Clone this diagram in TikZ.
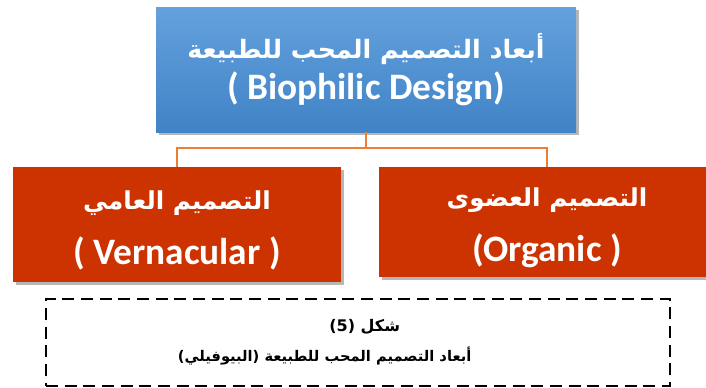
\documentclass[tikz,border=0pt]{standalone}
\usepackage{fontspec}
\setmainfont{Carlito}
\newfontfamily\arabicfont[Script=Arabic]{DejaVu Sans}
\TeXXeTstate=1
\usetikzlibrary{shadows}
\definecolor{topblue}{RGB}{100,161,221}
\definecolor{lowblue}{RGB}{64,131,198}
\definecolor{boxred}{RGB}{204,51,0}
\definecolor{linkorange}{RGB}{237,125,49}

\begin{document}
\begin{tikzpicture}[x=0.75pt,y=0.75pt,
  boxshadow/.style={drop shadow={shadow xshift=2pt,shadow yshift=-2pt,opacity=0.4,fill=black!70}},
  mainbox/.style={boxshadow,rectangle,top color=topblue,bottom color=lowblue,text=white,
    align=center,inner sep=0pt,minimum width=315pt,minimum height=93.75pt,
    font=\bfseries\fontsize{28}{31}\selectfont},
  kindbox/.style={boxshadow,rectangle,fill=boxred,text=white,align=center,inner sep=0pt,
    font=\bfseries\fontsize{28}{41}\selectfont},
  capbox/.style={rectangle,draw=black,line width=1pt,dash pattern=on 9pt off 5pt,
    align=center,inner sep=0pt,minimum width=468pt,minimum height=65.25pt,
    font=\bfseries\fontsize{12}{22.5}\selectfont},
  link/.style={draw=linkorange,line width=1.5pt}]
  \useasboundingbox (0,0) rectangle (706,387);
  \node[mainbox] (dims) at (366,317.5)
       {{\arabicfont\fontsize{19}{31}\selectfont\beginR أبعاد التصميم المحب للطبيعة\endR}\\
        ( Biophilic Design)};
  \node[kindbox,minimum width=246pt,minimum height=86.25pt] (vern) at (177,162.5)
       {\rule{0pt}{23pt}{\arabicfont\fontsize{18.5}{41}\selectfont\beginR التصميم العامي\endR}\\
        ( Vernacular )};
  \node[kindbox,minimum width=252pt,minimum height=82.5pt] (orgn) at (547,165)
       {\rule{0pt}{23pt}{\arabicfont\fontsize{18.5}{41}\selectfont\beginR التصميم العضوى\endR}\\
        (Organic )};
  \draw[link] (dims.south) -- ++(0,-16) -| (vern.north);
  \draw[link] (dims.south) -- ++(0,-16) -| (orgn.north);
  \node[capbox] (caption) at (358,44.5)
       {\hspace*{10pt}{\arabicfont\beginR\hbox{شكل}\ \hbox{(5)}\endR}\\
        {\arabicfont\fontsize{11}{22.5}\selectfont\beginR أبعاد التصميم المحب للطبيعة (البيوفيلي)\endR}\hspace*{50pt}};
\end{tikzpicture}
\end{document}
